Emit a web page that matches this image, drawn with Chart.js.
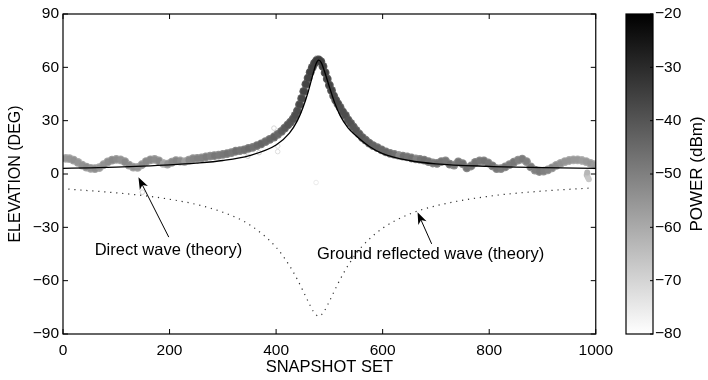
<!DOCTYPE html>
<html>
<head>
<meta charset="utf-8">
<script src="https://cdn.jsdelivr.net/npm/chart.js@4.4.1/dist/chart.umd.min.js"></script>
<style>
  html, body { margin: 0; padding: 0; background: #fff; }
  #wrap { position: relative; width: 708px; height: 380px; }
  #mainChart { position: absolute; left: 0; top: 0; }
  #barChart { position: absolute; left: 600px; top: 0; }
</style>
</head>
<body>
<div id="wrap">
  <canvas id="mainChart" width="620" height="380"></canvas>
  <canvas id="barChart" width="108" height="380"></canvas>
</div>
<script>
// measured elevation per snapshot set, coloured by received power
const snapX = [5, 12, 20, 28, 36, 44, 52, 60, 68, 76, 84, 92, 100, 108, 116, 124, 132, 140, 148, 156,
  164, 172, 180, 188, 196, 204, 212, 220, 228, 236, 244, 252, 260, 268, 276, 284, 292, 300, 308, 316,
  324, 332, 340, 348, 356, 364, 372, 380, 388, 396, 403, 410, 416, 422, 427, 432, 436, 440, 444, 448,
  452, 456, 460, 464, 468, 472, 476, 480, 484, 488, 492, 496, 500, 504, 508, 512, 516, 520, 525, 530,
  535, 540, 545, 550, 556, 562, 568, 575, 582, 590, 598, 606, 614, 622, 630, 638, 646, 654, 662, 670,
  678, 686, 694, 702, 710, 718, 726, 734, 742, 750, 758, 766, 774, 782, 790, 798, 806, 814, 822, 830,
  838, 846, 854, 862, 870, 878, 886, 894, 902, 910, 918, 926, 934, 942, 950, 958, 966, 974, 982, 990, 997];
const snapElev = [8.8, 8.6, 7.8, 6.5, 5.0, 3.9, 3.2, 3.0, 3.6, 5.2, 6.8, 7.8, 8.2, 8.0, 6.9, 5.0, 3.9, 3.7, 5.2, 7.0,
  8.0, 8.2, 7.4, 6.0, 5.6, 6.6, 7.5, 7.3, 7.0, 7.8, 8.6, 8.8, 9.0, 9.6, 10.0, 10.3, 10.6, 11.0, 11.5, 12.0,
  12.8, 13.2, 13.6, 14.4, 15.0, 16.0, 17.0, 18.2, 19.5, 20.8, 22.3, 24.0, 25.8, 27.6, 29.2, 31.0, 33.0, 35.5, 39.0, 42.5,
  46.5, 50.5, 54.0, 57.3, 60.0, 62.3, 63.8, 64.2, 63.2, 60.5, 57.0, 53.5, 50.0, 47.0, 44.0, 41.5, 39.5, 37.5, 35.0, 33.0,
  30.5, 28.5, 26.5, 24.5, 22.5, 20.5, 19.0, 17.3, 16.0, 14.8, 13.6, 12.4, 11.6, 11.0, 10.5, 10.0, 9.6, 9.0, 8.5, 8.2,
  7.8, 7.0, 6.2, 6.0, 7.0, 7.4, 5.5, 5.0, 6.8, 5.8, 3.5, 4.5, 6.5, 7.4, 7.4, 6.2, 4.6, 3.0, 3.0, 4.0,
  5.3, 6.6, 7.8, 8.4, 7.0, 4.0, 2.2, 1.4, 1.6, 2.3, 3.5, 4.8, 6.0, 7.0, 7.6, 8.0, 8.0, 7.6, 7.0, 6.0, 5.2];
const snapPower = [-56, -55, -54, -55, -54, -53, -54, -53, -55, -54, -53, -52, -53, -54, -52, -53, -54, -55, -53, -52,
  -52, -53, -52, -58, -54, -52, -51, -53, -57, -52, -51, -50, -50, -49, -50, -48, -49, -48, -47, -48,
  -46, -47, -46, -45, -46, -45, -44, -45, -44, -43, -44, -42, -41, -40, -40, -39, -38, -38, -37, -37,
  -36, -36, -36, -35, -35, -35, -34, -34, -34, -35, -35, -36, -36, -36, -37, -37, -37, -38, -38, -38,
  -39, -39, -40, -40, -41, -41, -42, -42, -43, -43, -44, -44, -45, -46, -52, -46, -47, -46, -50, -47,
  -46, -47, -48, -46, -47, -48, -46, -49, -47, -46, -47, -48, -47, -48, -47, -48, -47, -48, -49, -48,
  -49, -48, -50, -49, -50, -49, -50, -49, -50, -51, -52, -53, -54, -55, -55, -56, -56, -57, -56, -55, -56];

// weak returns at the far end (filled) and scattered weak detections (open)
const strayX = [983, 985, 987, 984];
const strayElev = [-0.5, -1.8, -3.0, 0.8];
const strayPower = [-64, -66, -67, -63];
const openX = [149, 347, 368, 396, 403, 403, 475, 476];
const openElev = [-10.2, 10.0, 12.0, 25.8, 15.7, 12.6, -4.8, 65.4];
const openPower = [-70, -68, -70, -70, -72, -72, -75, -68];

// theory curves
const directX = [0, 50, 100, 150, 200, 250, 300, 350, 400, 425, 440, 450, 460, 470, 475, 480,
  485, 490, 500, 510, 520, 535, 550, 575, 600, 650, 700, 800, 900, 1000];
const directElev = [3.2, 3.5, 3.9, 4.4, 5.1, 6.1, 7.6, 10.4, 16.3, 23, 30, 37, 46, 57, 62, 64,
  62.5, 58.5, 49, 40, 33, 26, 21.5, 15.5, 11.5, 7.6, 5.7, 4.3, 3.6, 3.2];
const groundX = [10, 50, 100, 150, 200, 250, 300, 350, 400, 425, 440, 450, 460, 470, 480,
  490, 500, 510, 520, 535, 560, 600, 650, 700, 800, 900, 990];
const groundElev = [-8.5, -9.4, -10.6, -12.1, -14.2, -17.1, -21.5, -28.5, -41.2, -51.5, -59.4, -65.4, -71.6, -77.3, -80,
  -77.3, -71.6, -65.4, -59.4, -51.5, -41.2, -30.5, -22.6, -17.9, -12.5, -9.6, -7.9];

const xTicks = [0, 200, 400, 600, 800, 1000];
const yTicks = [-90, -60, -30, 0, 30, 60, 90];
const powerTicks = [-80, -70, -60, -50, -40, -30, -20];
const powerRange = [-80, -20];

Chart.defaults.font.family = "'Liberation Sans', Arial, Helvetica, sans-serif";
Chart.defaults.color = '#000';

const zip = (xs, ys) => xs.map((x, i) => ({ x: x, y: ys[i] }));
const minus = v => String(v).replace('-', '\u2212');

// matlab style gray colormap: -20 dBm black, -80 dBm white
function grayFor(p) {
  const t = Math.min(1, Math.max(0, (-20 - p) / 60));
  const l = Math.round(255 * t);
  return 'rgb(' + l + ',' + l + ',' + l + ')';
}

// box round the axes with inward ticks on all four sides
const frameTicks = {
  id: 'frameTicks',
  afterDatasetsDraw(chart) {
    const { ctx, chartArea: a, scales } = chart;
    ctx.save();
    ctx.strokeStyle = '#000';
    ctx.lineWidth = 1.2;
    ctx.strokeRect(a.left, a.top, a.right - a.left, a.bottom - a.top);
    ctx.lineWidth = 1;
    ctx.beginPath();
    xTicks.forEach(v => {
      const px = scales.x.getPixelForValue(v);
      ctx.moveTo(px, a.bottom); ctx.lineTo(px, a.bottom - 5);
      ctx.moveTo(px, a.top); ctx.lineTo(px, a.top + 5);
    });
    yTicks.forEach(v => {
      const py = scales.y.getPixelForValue(v);
      ctx.moveTo(a.left, py); ctx.lineTo(a.left + 5, py);
      ctx.moveTo(a.right, py); ctx.lineTo(a.right - 5, py);
    });
    ctx.stroke();
    ctx.restore();
  }
};

// text labels with arrows pointing at the theory curves
const notes = [
  { text: 'Direct wave (theory)', at: [198, -43], tail: [198.5, -35.5], tip: [141.6, -1.8] },
  { text: 'Ground reflected wave (theory)', at: [690, -45.5], tail: [692, -39.3], tip: [665.5, -21.5] }
];

const arrowNotes = {
  id: 'arrowNotes',
  afterDatasetsDraw(chart) {
    const { ctx, scales: { x, y } } = chart;
    ctx.save();
    ctx.strokeStyle = '#000';
    ctx.fillStyle = '#000';
    ctx.lineWidth = 1;
    notes.forEach(n => {
      const tx = x.getPixelForValue(n.tail[0]), ty = y.getPixelForValue(n.tail[1]);
      const hx = x.getPixelForValue(n.tip[0]), hy = y.getPixelForValue(n.tip[1]);
      const ang = Math.atan2(hy - ty, hx - tx);
      const len = 12, half = 4.5;
      ctx.beginPath();
      ctx.moveTo(tx, ty);
      ctx.lineTo(hx - Math.cos(ang) * len * 0.7, hy - Math.sin(ang) * len * 0.7);
      ctx.stroke();
      // arrow head
      const bx = hx - Math.cos(ang) * len, by = hy - Math.sin(ang) * len;
      const nx = -Math.sin(ang), ny = Math.cos(ang);
      ctx.beginPath();
      ctx.moveTo(hx, hy);
      ctx.lineTo(bx + nx * half, by + ny * half);
      ctx.lineTo(hx - Math.cos(ang) * len * 0.72, hy - Math.sin(ang) * len * 0.72);
      ctx.lineTo(bx - nx * half, by - ny * half);
      ctx.closePath();
      ctx.fill();

      ctx.font = "16.5px 'Liberation Sans', Arial, sans-serif";
      ctx.textAlign = 'center';
      ctx.textBaseline = 'middle';
      ctx.fillText(n.text, x.getPixelForValue(n.at[0]), y.getPixelForValue(n.at[1]));
    });
    ctx.restore();
  }
};

const measured = zip(snapX, snapElev);

new Chart(document.getElementById('mainChart'), {
  type: 'scatter',
  data: {
    datasets: [
      {
        type: 'line',
        label: 'Direct wave (theory)',
        data: zip(directX, directElev),
        borderColor: '#000',
        borderWidth: 1.3,
        pointRadius: 0,
        cubicInterpolationMode: 'monotone',
        order: 0
      },
      {
        type: 'line',
        label: 'Ground reflected wave (theory)',
        data: zip(groundX, groundElev),
        borderColor: '#333',
        borderWidth: 1.2,
        borderDash: [1.2, 4.8],
        pointRadius: 0,
        cubicInterpolationMode: 'monotone',
        order: 1
      },
      {
        // darker core of each measurement
        label: 'Measured',
        data: measured,
        pointRadius: 3.2,
        pointBorderWidth: 0,
        pointBackgroundColor: snapPower.map(grayFor),
        order: 2
      },
      {
        // softer outer rim, drawn underneath
        label: 'Measured rim',
        data: measured,
        pointRadius: 4.4,
        pointBorderWidth: 0,
        pointBackgroundColor: snapPower.map(p => grayFor(p - 5)),
        order: 3
      },
      {
        label: 'Weak',
        data: zip(strayX, strayElev),
        pointRadius: 3,
        pointBorderWidth: 0,
        pointBackgroundColor: strayPower.map(grayFor),
        order: 4
      },
      {
        label: 'Weak (open)',
        data: zip(openX, openElev),
        pointRadius: 2.3,
        pointBorderWidth: 1,
        pointBackgroundColor: 'rgba(0,0,0,0)',
        pointBorderColor: openPower.map(grayFor),
        order: 5
      }
    ]
  },
  options: {
    responsive: false,
    animation: false,
    devicePixelRatio: 1,
    events: [],
    layout: { padding: { left: 0, right: 18, top: 14, bottom: 0 } },
    plugins: { legend: { display: false }, tooltip: { enabled: false } },
    scales: {
      x: {
        type: 'linear',
        min: 0,
        max: 1000,
        afterBuildTicks: s => { s.ticks = xTicks.map(v => ({ value: v })); },
        afterFit: s => { s.height = 46; },
        grid: { display: false, drawTicks: false },
        border: { display: false },
        ticks: { padding: 7, maxRotation: 0, font: { size: 15.5 }, callback: v => String(v) },
        title: { display: true, text: 'SNAPSHOT SET', font: { size: 16.5 }, padding: { top: 0, bottom: 3 } }
      },
      y: {
        type: 'linear',
        min: -90,
        max: 90,
        afterBuildTicks: s => { s.ticks = yTicks.map(v => ({ value: v })); },
        afterFit: s => { s.width = 63; },
        grid: { display: false, drawTicks: false },
        border: { display: false },
        ticks: { padding: 4, font: { size: 15.5 }, callback: v => minus(v) },
        title: { display: true, text: 'ELEVATION (DEG)', font: { size: 16 }, padding: { top: 6, bottom: 0 } }
      }
    }
  },
  plugins: [frameTicks, arrowNotes]
});

// colour bar: a single floating bar filled with the gray ramp
const barFrame = {
  id: 'barFrame',
  afterDatasetsDraw(chart) {
    const { ctx, chartArea: a, scales } = chart;
    ctx.save();
    ctx.strokeStyle = '#000';
    ctx.lineWidth = 1.2;
    ctx.strokeRect(a.left, a.top, a.right - a.left, a.bottom - a.top);
    ctx.lineWidth = 1;
    ctx.beginPath();
    powerTicks.forEach(v => {
      const py = scales.y.getPixelForValue(v);
      ctx.moveTo(a.right, py); ctx.lineTo(a.right - 3, py);
    });
    ctx.stroke();
    ctx.translate(97, (a.top + a.bottom) / 2);
    ctx.rotate(-Math.PI / 2);
    ctx.font = "17px 'Liberation Sans', Arial, sans-serif";
    ctx.fillStyle = '#000';
    ctx.textAlign = 'center';
    ctx.textBaseline = 'middle';
    ctx.fillText('POWER (dBm)', 0, 0);
    ctx.restore();
  }
};

new Chart(document.getElementById('barChart'), {
  type: 'bar',
  data: {
    labels: ['power'],
    datasets: [{
      data: [powerRange],
      barPercentage: 1,
      categoryPercentage: 1,
      borderWidth: 0,
      backgroundColor: c => {
        const a = c.chart.chartArea;
        if (!a) return '#888';
        const g = c.chart.ctx.createLinearGradient(0, a.bottom, 0, a.top);
        g.addColorStop(0, grayFor(powerRange[0]));
        g.addColorStop(1, grayFor(powerRange[1]));
        return g;
      }
    }]
  },
  options: {
    responsive: false,
    animation: false,
    devicePixelRatio: 1,
    events: [],
    layout: { padding: { left: 26, right: 0, top: 14, bottom: 46 } },
    plugins: { legend: { display: false }, tooltip: { enabled: false } },
    scales: {
      x: { display: false },
      y: {
        position: 'right',
        min: powerRange[0],
        max: powerRange[1],
        afterBuildTicks: s => { s.ticks = powerTicks.map(v => ({ value: v })); },
        afterFit: s => { s.width = 55; },
        grid: { display: false, drawTicks: false },
        border: { display: false },
        ticks: { padding: 2, font: { size: 15.5 }, callback: v => minus(v) }
      }
    }
  },
  plugins: [barFrame]
});
</script>
</body>
</html>
